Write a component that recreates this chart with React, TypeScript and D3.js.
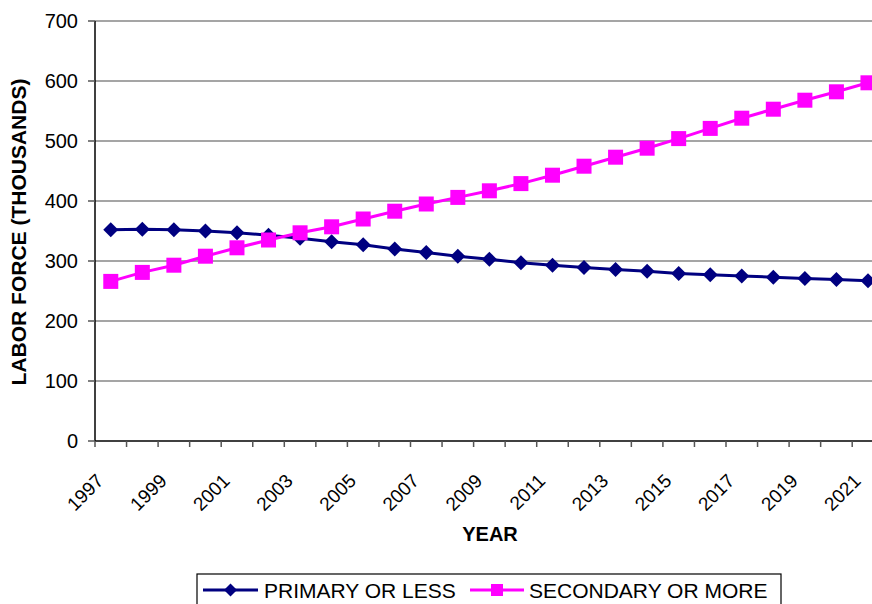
import React from "react";
import * as d3 from "d3";

const years: string[] = [
  "1997","1998","1999","2000","2001","2002","2003","2004","2005","2006","2007","2008","2009",
  "2010","2011","2012","2013","2014","2015","2016","2017","2018","2019","2020","2021",
];
const primaryOrLess: number[] = [
  352, 353, 352, 350, 347, 343, 338, 332, 327, 320, 314, 308, 303,
  297, 293, 289, 286, 283, 279, 277, 275, 273, 271, 269, 267,
];
const secondaryOrMore: number[] = [
  266, 281, 293, 308, 322, 335, 347, 357, 370, 383, 395, 406, 417,
  429, 443, 458, 473, 488, 504, 521, 538, 553, 568, 582, 597,
];
const yTicks: number[] = [0, 100, 200, 300, 400, 500, 600, 700];
const xLabelYears: string[] = years.filter((_, i) => i % 2 === 0);
const seriesNames: string[] = ["PRIMARY OR LESS", "SECONDARY OR MORE"];

const W = 872;
const H = 604;
const FONT = "'Liberation Sans', Arial, sans-serif";
const NAVY = "#000080";
const MAGENTA = "#FF00FF";

export default function App() {
  const left = 95;
  const top = 21;
  const bottom = 441;
  const bandW = 31.55;
  const x = d3.scaleBand<string>().domain(years).range([left, left + bandW * years.length]).padding(0);
  const y = d3.scaleLinear().domain([0, 700]).range([bottom, top]);
  const cx = (yr: string) => (x(yr) as number) + x.bandwidth() / 2;
  const right = left + bandW * years.length;

  const line = d3
    .line<number>()
    .x((_, i) => cx(years[i]))
    .y((d) => y(d));

  const diamond = (px: number, py: number, r: number) =>
    `M${px},${py - r}L${px + r},${py}L${px},${py + r}L${px - r},${py}Z`;

  const boundaries = d3.range(years.length + 1).map((i) => left + i * bandW);

  return (
    <svg
      width={W}
      height={H}
      style={{ position: "absolute", left: 0, top: 0, display: "block", background: "#fff" }}
      fontFamily={FONT}
    >
      <rect x={0} y={0} width={W} height={H} fill="#fff" />
      {/* gridlines */}
      {yTicks.filter((t) => t > 0).map((t) => (
        <line key={"g" + t} x1={left} x2={right} y1={y(t)} y2={y(t)} stroke="#4d4d4d" strokeWidth={1.2} />
      ))}
      {/* y axis */}
      <line x1={left} x2={left} y1={top} y2={bottom} stroke="#000" strokeWidth={1.5} />
      {yTicks.map((t) => (
        <g key={"yt" + t}>
          <line x1={left - 7} x2={left} y1={y(t)} y2={y(t)} stroke="#555" strokeWidth={1.5} />
          <text x={78} y={y(t)} dy="0.36em" textAnchor="end" fontSize={20} fill="#000">
            {t}
          </text>
        </g>
      ))}
      {/* x axis */}
      <line x1={left} x2={right} y1={bottom} y2={bottom} stroke="#000" strokeWidth={1.5} />
      {boundaries.map((bx, i) => (
        <line key={"xt" + i} x1={bx} x2={bx} y1={bottom} y2={bottom + 6} stroke="#555" strokeWidth={1.5} />
      ))}
      {xLabelYears.map((yr) => (
        <text
          key={"xl" + yr}
          transform={`translate(${cx(yr) - 6},${bottom + 41}) rotate(-45)`}
          textAnchor="end"
          fontSize={19}
          fill="#000"
        >
          {yr}
        </text>
      ))}
      {/* axis titles */}
      <text x={490} y={541} textAnchor="middle" fontSize={20} fontWeight="bold" fill="#000">
        YEAR
      </text>
      <text
        transform={`translate(26,232) rotate(-90)`}
        textAnchor="middle"
        fontSize={21}
        fontWeight="bold"
        fill="#000"
      >
        LABOR FORCE (THOUSANDS)
      </text>
      {/* series */}
      <path d={line(primaryOrLess) || ""} fill="none" stroke={NAVY} strokeWidth={3} />
      {primaryOrLess.map((v, i) => (
        <path key={"p" + i} d={diamond(cx(years[i]), y(v), 7.5)} fill={NAVY} />
      ))}
      <path d={line(secondaryOrMore) || ""} fill="none" stroke={MAGENTA} strokeWidth={3} />
      {secondaryOrMore.map((v, i) => (
        <rect key={"s" + i} x={cx(years[i]) - 7.5} y={y(v) - 7.5} width={15} height={15} fill={MAGENTA} />
      ))}
      {/* legend */}
      <rect x={197} y={574} width={584} height={40} fill="#fff" stroke="#000" strokeWidth={1.2} />
      <line x1={203} x2={258} y1={590} y2={590} stroke={NAVY} strokeWidth={3} />
      <path d={diamond(230.5, 590, 6.5)} fill={NAVY} />
      <text x={264} y={597.5} fontSize={21} fill="#000">
        {seriesNames[0]}
      </text>
      <line x1={470} x2={524} y1={590} y2={590} stroke={MAGENTA} strokeWidth={3} />
      <rect x={491} y={584} width={12} height={12} fill={MAGENTA} />
      <text x={529} y={597.5} fontSize={21} fill="#000">
        {seriesNames[1]}
      </text>
    </svg>
  );
}
